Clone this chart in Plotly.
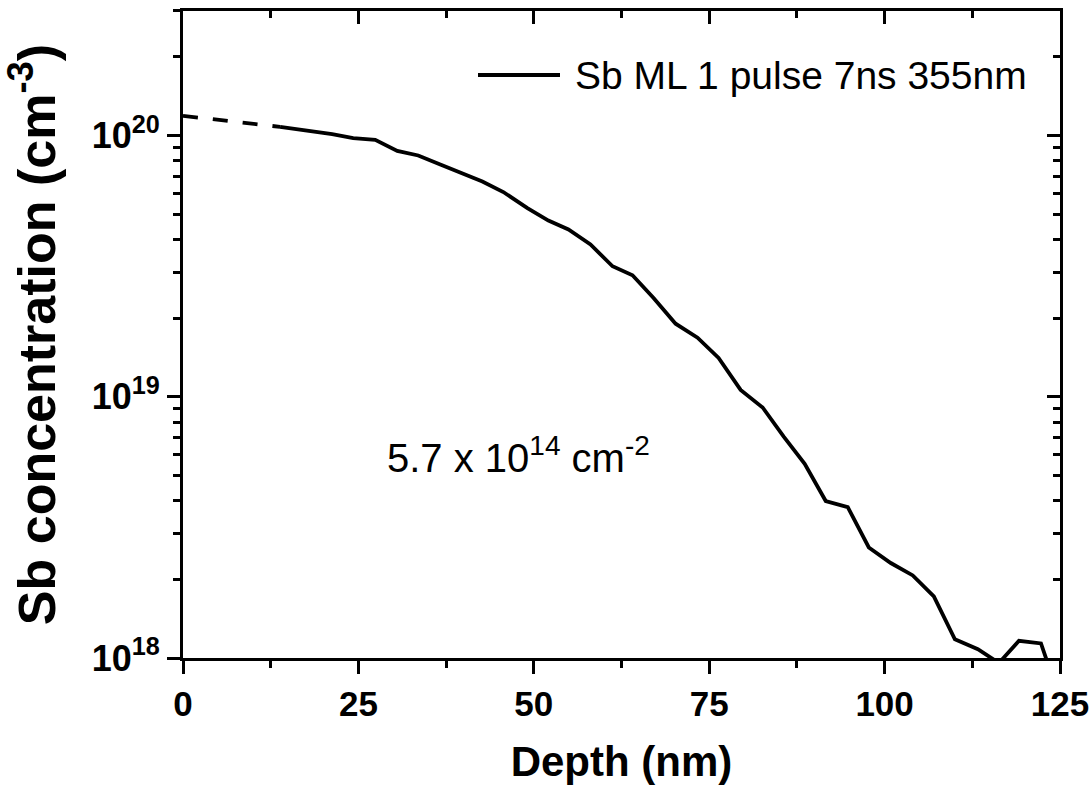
import plotly.graph_objects as go

# ---- data ----
extrap_depth = [0.0, 13.84]
extrap_conc = [1.19e20, 1.08e20]

depth_nm = [13.84, 18.12, 21.26, 24.26, 27.40, 30.54, 33.53, 36.67, 39.81, 42.67,
            45.66, 49.09, 52.08, 54.94, 58.08, 61.22, 64.07, 67.07, 70.21, 73.34,
            76.34, 79.48, 82.62, 85.62, 88.61, 91.61, 94.75, 97.75, 100.88, 104.02,
            107.02, 110.02, 113.30, 116.30, 119.15, 122.29, 125.29]
sb_conc = [1.08e20, 1.045e20, 1.013e20, 9.77e19, 9.63e19, 8.74e19, 8.39e19, 7.75e19, 7.16e19, 6.67e19,
           6.08e19, 5.28e19, 4.73e19, 4.37e19, 3.83e19, 3.16e19, 2.92e19, 2.39e19, 1.905e19, 1.684e19,
           1.409e19, 1.063e19, 9.10e18, 7.04e18, 5.54e18, 3.99e18, 3.78e18, 2.65e18, 2.31e18, 2.07e18,
           1.72e18, 1.18e18, 1.08e18, 9.57e17, 1.164e18, 1.137e18, 6.6e17]

series_name = "Sb ML 1 pulse 7ns 355nm"
x_title = "Depth (nm)"
y_title = "Sb concentration (cm<sup>-3</sup>)"
dose_text = "5.7 x 10<sup>14</sup> cm<sup>-2</sup>"

x_ticks = [0, 25, 50, 75, 100, 125]
x_minor = [12.5, 37.5, 62.5, 87.5, 112.5]
y_ticks = [1e18, 1e19, 1e20]
y_ticktext = ["10<sup>18</sup>", "10<sup>19</sup>", "10<sup>20</sup>"]
y_minor = [2e18, 3e18, 4e18, 5e18, 6e18, 7e18, 8e18, 9e18,
           2e19, 3e19, 4e19, 5e19, 6e19, 7e19, 8e19, 9e19,
           2e20, 3e20]

x_range = [0, 125]
y_range_log = [18, 20.477]

FONT = "Liberation Sans, Arial, sans-serif"
BLK = "black"
W, H = 1091, 785
ML, MR, MT, MB = 183, 31, 11, 127
PW, PH = W - ML - MR, H - MT - MB


def px_x(px):
    return (px - ML) / PW


def px_y(py):
    return (H - MB - py) / PH


fig = go.Figure()
fig.add_trace(go.Scatter(x=extrap_depth, y=extrap_conc, mode="lines",
                         line=dict(color=BLK, width=3.8, dash="15px,15px"),
                         showlegend=False, hoverinfo="skip"))
fig.add_trace(go.Scatter(x=depth_nm, y=sb_conc, mode="lines", name=series_name,
                         line=dict(color=BLK, width=3.8), showlegend=False))
# invisible trace for mirrored axes
fig.add_trace(go.Scatter(x=[None], y=[None], xaxis="x2", yaxis="y2", showlegend=False,
                         mode="lines", hoverinfo="skip"))

tick_common = dict(showgrid=False, zeroline=False, showline=True, linecolor=BLK,
                   linewidth=3, tickwidth=2.5, tickcolor=BLK, automargin=False)

fig.update_layout(
    width=W, height=H,
    margin=dict(l=ML, r=MR, t=MT, b=MB),
    paper_bgcolor="white", plot_bgcolor="white",
    font=dict(family=FONT, color=BLK),
    showlegend=False,
    xaxis=dict(range=x_range, ticks="outside", ticklen=13,
               tickmode="array", tickvals=x_ticks,
               minor=dict(tickmode="array", tickvals=x_minor, ticks="outside",
                          ticklen=7, tickwidth=2.5, tickcolor=BLK, showgrid=False),
               tickfont=dict(size=35, family=FONT, color=BLK, weight="bold"),
               title=dict(text=x_title, standoff=28,
                          font=dict(size=42, family=FONT, color=BLK, weight="bold")),
               **tick_common),
    yaxis=dict(type="log", range=y_range_log, ticks="outside", ticklen=13,
               tickmode="array", tickvals=y_ticks, ticktext=y_ticktext,
               minor=dict(tickmode="array", tickvals=y_minor, ticks="outside",
                          ticklen=7, tickwidth=2.5, tickcolor=BLK, showgrid=False),
               tickfont=dict(size=36, family=FONT, color=BLK, weight="bold"),
               title=dict(text=y_title, standoff=34,
                          font=dict(size=52, family=FONT, color=BLK, weight="bold")),
               **tick_common),
    xaxis2=dict(overlaying="x", side="top", range=x_range,
                ticks="inside", ticklen=13,
                tickmode="array", tickvals=x_ticks, showticklabels=False,
                minor=dict(tickmode="array", tickvals=x_minor, ticks="inside",
                           ticklen=7, tickwidth=2.5, tickcolor=BLK, showgrid=False),
                **tick_common),
    yaxis2=dict(overlaying="y", side="right", type="log", range=y_range_log,
                ticks="inside", ticklen=13,
                tickmode="array", tickvals=y_ticks, showticklabels=False,
                minor=dict(tickmode="array", tickvals=y_minor, ticks="inside",
                           ticklen=7, tickwidth=2.5, tickcolor=BLK, showgrid=False),
                **tick_common),
    shapes=[dict(type="line", xref="paper", yref="paper",
                 x0=px_x(478), x1=px_x(560), y0=px_y(75), y1=px_y(75),
                 line=dict(color=BLK, width=3.8))],
    annotations=[
        dict(text=series_name, x=px_x(573), y=px_y(75), xref="paper", yref="paper",
             xanchor="left", yanchor="middle", showarrow=False,
             font=dict(size=39, family=FONT, color=BLK)),
        dict(text=dose_text, x=px_x(385), y=px_y(455), xref="paper", yref="paper",
             xanchor="left", yanchor="middle", showarrow=False,
             font=dict(size=40, family=FONT, color=BLK)),
    ],
)

fig.write_html("out.html")
